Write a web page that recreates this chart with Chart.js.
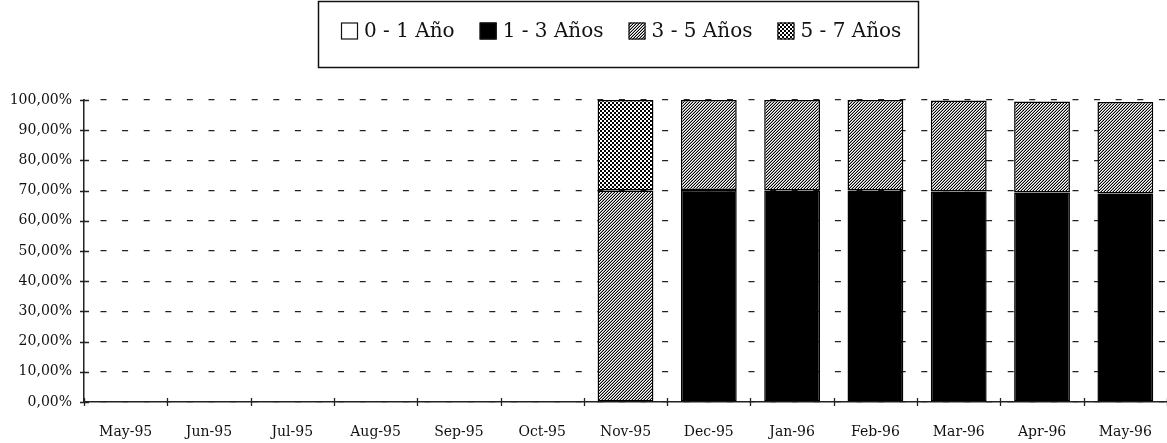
<!DOCTYPE html>
<html>
<head>
<meta charset="utf-8">
<script src="https://cdn.jsdelivr.net/npm/chart.js@4/dist/chart.umd.min.js"></script>
<style>
  html, body { margin: 0; padding: 0; background: #fff; }
  canvas { display: block; }
</style>
</head>
<body>
<canvas id="c" width="1167" height="443"></canvas>
<script>
// Months on the horizontal axis
const months = ['May-95', 'Jun-95', 'Jul-95', 'Aug-95', 'Sep-95', 'Oct-95', 'Nov-95',
                'Dec-95', 'Jan-96', 'Feb-96', 'Mar-96', 'Apr-96', 'May-96'];

// Share of the portfolio (%) by maturity bucket
const años0a1 = [null, null, null, null, null, null, null, null, null, null, null, null, null];
const años1a3 = [null, null, null, null, null, null, null, 70.2, 70.0, 70.0, 69.7, 69.4, 69.0];
const años3a5 = [null, null, null, null, null, null, 70.0, 29.8, 30.0, 30.0, 30.1, 30.1, 30.3];
const años5a7 = [null, null, null, null, null, null, 30.0, null, null, null, null, null, null];

// Vertical axis ticks (%)
const yTicks = [0, 10, 20, 30, 40, 50, 60, 70, 80, 90, 100];

const INK = '#111';
const SERIF = '"DejaVu Serif", "Liberation Serif", serif';

// Fine diagonal hatching (/ direction)
function hatchPattern() {
  const c = document.createElement('canvas');
  c.width = 3; c.height = 3;
  const g = c.getContext('2d');
  const img = g.createImageData(3, 3);
  for (let yy = 0; yy < 3; yy++) {
    for (let xx = 0; xx < 3; xx++) {
      const k = (xx + yy) % 3;
      const v = k === 2 ? 0 : (k === 1 ? 160 : 255);
      const p = (yy * 3 + xx) * 4;
      img.data[p] = img.data[p + 1] = img.data[p + 2] = v;
      img.data[p + 3] = 255;
    }
  }
  g.putImageData(img, 0, 0);
  return g.createPattern(c, 'repeat');
}

// Small checkerboard
function checkerPattern() {
  const c = document.createElement('canvas');
  c.width = 4; c.height = 4;
  const g = c.getContext('2d');
  g.fillStyle = '#000';
  g.fillRect(0, 0, 4, 4);
  g.fillStyle = '#fff';
  g.fillRect(0, 0, 2, 2);
  g.fillRect(2, 2, 2, 2);
  return g.createPattern(c, 'repeat');
}

const hatch = hatchPattern();
const checker = checkerPattern();

// Framed legend across the top
const framedLegend = {
  id: 'framedLegend',
  afterDraw(chart) {
    const ctx = chart.ctx;
    ctx.save();
    ctx.strokeStyle = INK;
    ctx.lineWidth = 1.5;
    ctx.strokeRect(318.5, 1.5, 600, 66);
    ctx.font = '20px ' + SERIF;
    ctx.textBaseline = 'middle';
    const sw = 17, gapText = 6, gapItem = 25;
    const items = chart.data.datasets.map(d => ({ label: d.label, fill: d.backgroundColor }));
    const widths = items.map(it => sw + gapText + ctx.measureText(it.label).width);
    const total = widths.reduce((a, b) => a + b, 0) + gapItem * (items.length - 1);
    let x = Math.round(621 - total / 2);
    const cy = 31;
    items.forEach((it, i) => {
      ctx.fillStyle = it.fill;
      ctx.fillRect(x, cy - sw / 2, sw, sw);
      ctx.lineWidth = 1.2;
      ctx.strokeStyle = INK;
      ctx.strokeRect(x + 0.5, cy - sw / 2 + 0.5, sw - 1, sw - 1);
      ctx.fillStyle = INK;
      ctx.fillText(it.label, x + sw + gapText, cy + 1);
      x += widths[i] + gapItem;
    });
    ctx.restore();
  }
};

// Tick marks that cross both axes
const crossTicks = {
  id: 'crossTicks',
  afterDraw(chart) {
    const { ctx, chartArea: a, scales: { x, y } } = chart;
    ctx.save();
    ctx.strokeStyle = '#222';
    ctx.lineWidth = 1.3;
    ctx.beginPath();
    y.ticks.forEach((t, i) => {
      const py = Math.round(y.getPixelForTick(i)) + 0.5;
      ctx.moveTo(a.left - 4, py);
      ctx.lineTo(a.left + 5, py);
    });
    const n = x.ticks.length;
    const step = (a.right - a.left) / n;
    for (let i = 0; i <= n; i++) {
      const px = Math.round(a.left + i * step) + 0.5;
      ctx.moveTo(px, a.bottom - 4);
      ctx.lineTo(px, a.bottom + 4);
    }
    ctx.stroke();
    ctx.restore();
  }
};

const barCommon = {
  borderColor: '#000',
  borderWidth: 1.5,
  borderSkipped: false,
  barPercentage: 0.67,
  categoryPercentage: 1.0
};

new Chart(document.getElementById('c'), {
  type: 'bar',
  data: {
    labels: months,
    datasets: [
      Object.assign({ label: '0 - 1 Año', data: años0a1, backgroundColor: '#fff' }, barCommon),
      Object.assign({ label: '1 - 3 Años', data: años1a3, backgroundColor: '#000' }, barCommon),
      Object.assign({ label: '3 - 5 Años', data: años3a5, backgroundColor: hatch }, barCommon),
      Object.assign({ label: '5 - 7 Años', data: años5a7, backgroundColor: checker }, barCommon)
    ]
  },
  options: {
    responsive: false,
    devicePixelRatio: 1,
    animation: false,
    layout: { padding: { top: 100, right: -5, left: 0, bottom: 0 } },
    plugins: {
      legend: { display: false },
      tooltip: { enabled: false }
    },
    scales: {
      x: {
        stacked: true,
        offset: true,
        grid: { display: false },
        border: { display: true, color: '#222', width: 1.5 },
        ticks: {
          color: INK,
          font: { family: SERIF, size: 14 },
          padding: 14,
          maxRotation: 0,
          autoSkip: false
        },
        afterFit(s) { s.height = 41; }
      },
      y: {
        stacked: true,
        min: 0,
        max: 100,
        afterBuildTicks(s) { s.ticks = yTicks.map(v => ({ value: v })); },
        grid: { color: '#222', lineWidth: 1.2, drawTicks: false },
        border: { display: true, color: '#222', width: 1.5, dash: [6, 15.6], dashOffset: 5.6 },
        ticks: {
          color: INK,
          font: { family: SERIF, size: 14 },
          padding: 12,
          callback: v => v.toFixed(2).replace('.', ',') + '%'
        },
        afterFit(s) { s.width = 84; }
      }
    }
  },
  plugins: [framedLegend, crossTicks]
});
</script>
</body>
</html>
